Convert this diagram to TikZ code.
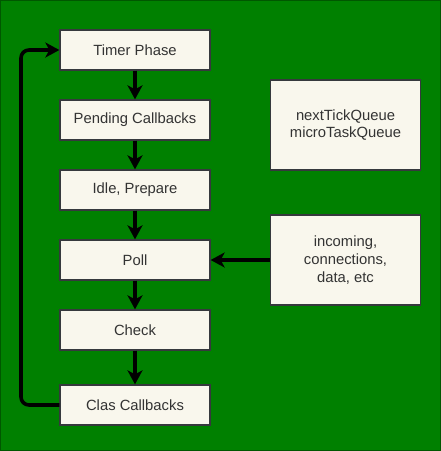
\documentclass[tikz,border=0pt]{standalone}
\usepackage{fontspec}
\setmainfont{Liberation Sans}
\usetikzlibrary{arrows.meta}
\definecolor{bggreen}{HTML}{008000}
\definecolor{bgborder}{HTML}{005700}
\definecolor{boxfill}{HTML}{F9F7ED}
\definecolor{boxline}{HTML}{36393D}
\definecolor{txt}{HTML}{333333}
\begin{document}
\begin{tikzpicture}[x=1pt,y=-1pt,
  phase/.style={draw=boxline,fill=boxfill,line width=1.3pt,minimum width=150pt,minimum height=40pt,inner sep=0pt,text=txt,font=\fontsize{14.8}{17.8}\selectfont,align=center},
  side/.style={phase,minimum height=90pt},
  conn/.style={line width=3.6pt,-{Stealth[length=14pt,width=15pt,inset=4pt]}}]
\useasboundingbox (0,0) rectangle (441,451);
\draw[fill=bggreen,draw=bgborder,line width=1.3pt] (0.65,0.65) rectangle (440.35,450.35);
\node[phase] (timer) at (135,50) {Timer Phase};
\node[phase] (pending) at (135,120) {Pending Callbacks};
\node[phase] (idle) at (135,190) {Idle, Prepare};
\node[phase] (poll) at (135,260) {Poll};
\node[phase] (check) at (135,330) {Check};
\node[phase] (clas) at (135,405) {Clas Callbacks};
\node[side] (queue) at (345.5,125) {nextTickQueue\\microTaskQueue};
\node[side] (incoming) at (345.5,260) {incoming,\\connections,\\data, etc};
\draw[conn] (timer) -- (pending);
\draw[conn] (pending) -- (idle);
\draw[conn] (idle) -- (poll);
\draw[conn] (poll) -- (check);
\draw[conn] (check) -- (clas);
\draw[conn] (incoming) -- (poll);
\coordinate (lb) at (21,405);
\coordinate (lt) at (21,50);
\draw[conn,rounded corners=8pt] (clas.west) -- (lb) -- (lt) -- (timer.west);
\end{tikzpicture}
\end{document}
